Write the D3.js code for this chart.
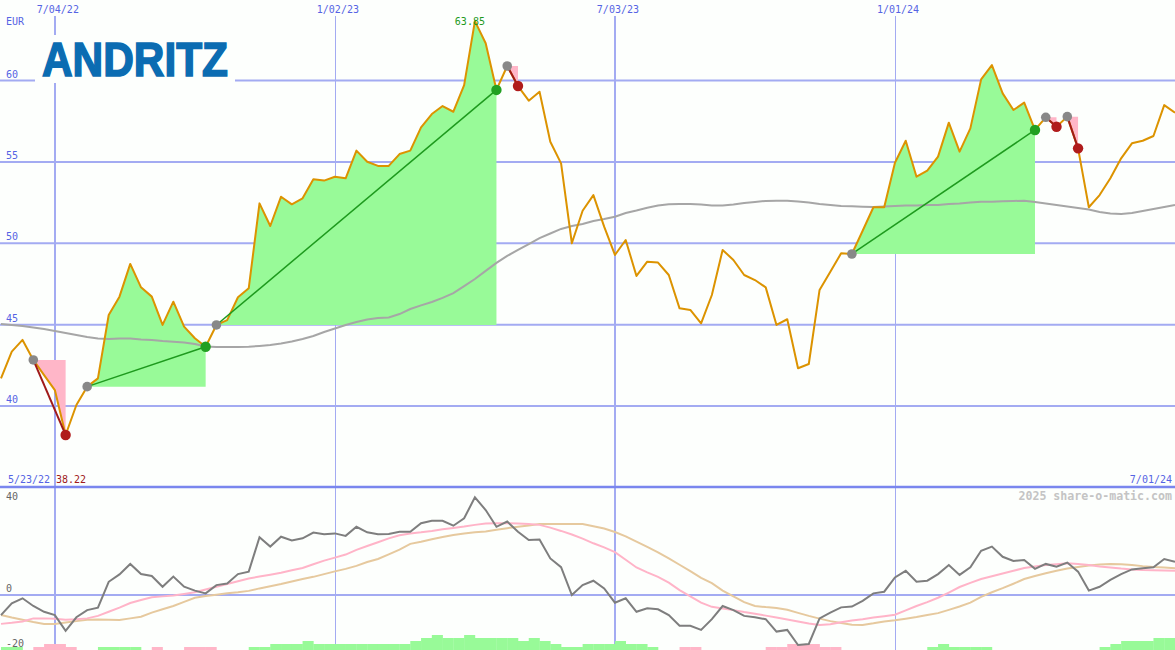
<!DOCTYPE html>
<html><head><meta charset="utf-8">
<script src="https://cdn.jsdelivr.net/npm/d3@7"></script>
<style>html,body{margin:0;padding:0;background:#fdfffd;overflow:hidden}svg{display:block}</style>
</head><body><svg id="c" width="1175" height="650"></svg>
<script>
// ---------- data (weekly closes, first week 2022-05-30) ----------
const startDate = "2022-05-30";
const prices = [41.70,43.34,44.06,42.83,41.90,40.98,38.22,40.06,41.19,41.70,
45.59,46.72,48.73,47.29,46.72,44.98,46.41,44.88,44.16,43.64,
44.98,45.28,46.68,47.23,52.45,51.06,52.86,52.39,52.76,53.93,
53.85,54.09,53.99,55.69,55.01,54.75,54.75,55.48,55.69,57.12,
57.94,58.43,58.08,59.72,63.65,62.29,59.42,60.89,59.66,58.76,
59.31,56.24,54.91,50.00,52.00,52.96,51.02,49.28,50.20,47.99,
48.87,48.81,48.05,46.00,45.90,45.08,46.82,49.59,48.97,48.05,
47.74,47.29,44.98,45.33,42.32,42.58,47.13,48.25,49.38,49.34,
50.77,52.21,52.21,54.95,56.30,54.09,54.46,55.32,57.41,55.63,
57.06,60.07,60.95,59.21,58.19,58.64,56.96,57.74,57.16,57.78,
55.83,52.21,52.96,53.99,55.22,56.14,56.30,56.59,58.49,58.02];
const priceMA = [45.04,44.98,44.92,44.82,44.73,44.61,44.49,44.36,44.24,44.15,
44.12,44.14,44.14,44.09,44.06,43.99,43.95,43.90,43.81,43.66,
43.63,43.63,43.63,43.64,43.69,43.75,43.84,43.96,44.12,44.30,
44.55,44.76,44.98,45.16,45.31,45.41,45.44,45.65,45.96,46.18,
46.39,46.64,46.94,47.37,47.80,48.30,48.79,49.22,49.59,49.95,
50.32,50.60,50.88,51.06,51.18,51.37,51.49,51.63,51.86,52.01,
52.18,52.32,52.39,52.41,52.41,52.38,52.32,52.32,52.38,52.47,
52.53,52.60,52.61,52.61,52.57,52.50,52.41,52.35,52.29,52.27,
52.25,52.23,52.26,52.29,52.32,52.32,52.35,52.35,52.41,52.44,
52.50,52.55,52.55,52.58,52.60,52.61,52.53,52.44,52.35,52.26,
52.17,52.07,51.92,51.83,51.80,51.86,51.98,52.10,52.23,52.35];
const momentum = [-7.3,-3.0,-1.2,-4.0,-6.1,-7.3,-13.0,-8.1,-5.5,-4.6,
4.8,7.5,11.3,7.6,6.9,3.0,6.7,3.0,1.6,0.6,
3.6,4.2,7.6,8.5,21.0,17.6,21.2,19.8,20.6,22.7,
22.1,22.4,21.5,24.8,22.8,22.1,22.2,23.0,23.0,26.1,
27.0,27.0,25.2,27.9,35.5,30.9,24.8,26.7,23.0,20.0,
20.2,13.3,10.1,0.0,3.6,5.2,2.4,-2.8,-1.2,-6.1,
-4.8,-5.2,-7.3,-11.2,-11.2,-12.7,-8.8,-4.0,-5.5,-7.6,
-8.1,-8.8,-13.3,-12.7,-18.2,-17.8,-8.5,-6.4,-4.5,-4.2,
-2.1,0.6,1.2,6.4,8.8,4.8,5.2,7.6,10.9,7.3,
10.1,16.1,17.6,13.9,12.4,12.7,9.5,11.3,10.3,11.8,
8.5,1.6,3.0,5.5,7.6,9.3,9.7,10.1,13.1,12.1];
const momAvgFast = [-10.5,-10.1,-9.6,-8.5,-8.5,-8.6,-9.0,-8.8,-8.5,-7.6,
-6.1,-4.6,-2.9,-1.8,-0.8,-0.5,-0.2,0.4,1.0,2.0,
3.0,4.0,5.0,6.0,6.7,7.4,8.1,9.0,9.8,11.2,
12.5,13.6,14.7,16.4,17.8,19.2,20.6,21.7,22.4,22.8,
23.3,23.9,24.4,24.9,25.5,26.0,26.1,26.1,26.0,25.8,
25.5,24.5,23.3,22.0,20.5,18.8,17.3,15.6,12.8,10.0,
8.2,6.6,4.5,1.8,-0.5,-2.8,-4.3,-4.9,-5.5,-6.2,
-6.8,-7.5,-8.2,-8.9,-9.6,-10.4,-10.9,-10.6,-9.9,-9.3,
-8.8,-8.2,-7.7,-7.2,-5.6,-4.0,-2.6,-1.0,0.9,2.9,
4.4,5.8,6.8,7.8,8.8,9.8,10.4,10.9,11.2,11.5,
11.3,10.9,10.4,10.0,9.6,9.3,9.1,9.0,8.9,8.8];
const momAvgSlow = [-7.3,-8.2,-9.0,-9.8,-10.5,-10.5,-10.0,-9.5,-9.0,-8.9,
-9.0,-9.1,-8.5,-7.9,-6.4,-5.2,-4.0,-2.5,-1.0,-0.4,
0.1,0.6,1.0,1.5,2.4,3.2,4.0,4.9,5.8,6.6,
7.6,8.6,9.5,10.6,12.0,13.1,14.8,16.5,18.6,19.4,
20.3,21.1,21.8,22.4,22.8,23.1,23.7,24.3,24.8,25.3,
25.8,25.8,25.8,25.8,25.8,25.0,24.2,22.9,21.3,19.4,
17.5,15.5,13.3,11.0,8.7,6.2,4.3,1.6,-0.5,-2.6,
-4.0,-4.4,-4.7,-5.4,-6.5,-7.6,-8.6,-9.5,-10.2,-10.8,
-10.9,-10.3,-9.6,-9.2,-8.6,-8.0,-7.3,-6.6,-5.4,-4.2,
-2.8,-0.7,1.0,2.5,4.1,5.8,6.9,7.9,8.8,9.6,
10.2,10.7,11.1,11.3,11.2,10.9,10.5,10.2,10.0,9.7];
const signalBars = [1,1,0,-1,-2,-2,-1,0,0,1,
1,1,1,0,-1,0,0,-1,-1,-1,
0,0,0,1,1,2,2,2,3,2,
2,2,2,2,2,2,2,2,3,4,
5,4,4,5,4,4,4,4,3,4,
3,2,1,1,2,2,2,3,2,2,
1,0,0,-1,-1,0,0,0,0,0,
0,-1,-1,-2,-2,-2,-1,-1,0,0,
0,0,0,0,0,0,1,2,1,1,
1,1,0,0,0,0,0,0,0,0,
0,0,1,2,3,3,3,4,4,4];
const tradeEntries = [3,8,20,47,79,97,99];
const tradeExits   = [6,19,46,48,96,98,100];
const priceTicks = [40,45,50,55,60];
const oscTicks = [40,0,-20];
const gridDates  = ["2022-07-04","2023-01-02","2023-07-03","2024-01-01"];
const gridLabels = ["7/04/22","1/02/23","7/03/23","1/01/24"];
const gridMajor  = [true,false,true,false];
const rangeLabels = ["5/23/22","7/01/24"];
const currencyLabel = "EUR";
const highLabel = "63.85", lowLabel = "38.22";
const watermark = "2025 share-o-matic.com";
const logoText = "ANDRITZ";

// ---------- setup ----------
const W = 1175, H = 650;
const svg = d3.select("#c");
const parse = d3.utcParse("%Y-%m-%d");
const start = parse(startDate);
const dates = prices.map((_, i) => d3.utcDay.offset(start, 7 * i));
const x = d3.scaleUtc().domain([dates[0], dates[dates.length - 1]]).range([1, 1175]);
const yP = d3.scaleLinear().domain([40, 60]).range([406, 80.5]);
const yO = d3.scaleLinear().domain([-20, 0]).range([650, 595]);
const barH = d3.scaleLinear().domain([0, 5]).range([0, 15]);
const FONT = "'DejaVu Sans Mono', monospace";
const GRID = "#a3abf2", LBL = "#5564e4";

svg.append("rect").attr("width", W).attr("height", H).attr("fill", "#fdfffd");

// grid
const g = svg.append("g");
priceTicks.forEach(v => g.append("line").attr("x1", 0).attr("x2", W)
  .attr("y1", yP(v)).attr("y2", yP(v)).attr("stroke", GRID).attr("stroke-width", 2));
g.append("line").attr("x1", 0).attr("x2", W).attr("y1", yO(0)).attr("y2", yO(0))
  .attr("stroke", GRID).attr("stroke-width", 2);
gridDates.forEach((d, k) => {
  const xx = Math.round(x(parse(d))) + (gridMajor[k] ? 0 : 0.5);
  g.append("line").attr("x1", xx).attr("x2", xx).attr("y1", 16).attr("y2", H)
    .attr("stroke", GRID).attr("stroke-width", gridMajor[k] ? 2 : 1);
});
g.append("line").attr("x1", 0).attr("x2", W).attr("y1", 487).attr("y2", 487)
  .attr("stroke", "#7a86ee").attr("stroke-width", 2.5);

// trade fills
const fills = svg.append("g");
tradeEntries.forEach((e, k) => {
  const xIdx = tradeExits[k];
  const ep = prices[e];
  const win = prices[xIdx] > ep;
  const idx = d3.range(e, xIdx + 1);
  const area = d3.area()
    .x(i => x(dates[i]))
    .y0(yP(ep))
    .y1(i => yP(win ? Math.max(prices[i], ep) : Math.min(prices[i], ep)));
  fills.append("path").attr("d", area(idx)).attr("fill", win ? "#98fa98" : "#ffb6c8");
});

// price MA
const lineP = d3.line().x((d, i) => x(dates[i])).y(d => yP(d));
svg.append("path").attr("d", lineP(priceMA)).attr("fill", "none")
  .attr("stroke", "#a6a6a6").attr("stroke-width", 2);
// price
svg.append("path").attr("d", lineP(prices)).attr("fill", "none")
  .attr("stroke", "#dc9300").attr("stroke-width", 2).attr("stroke-linejoin", "round");

// trade lines and dots
tradeEntries.forEach((e, k) => {
  const xi = tradeExits[k];
  const win = prices[xi] > prices[e];
  svg.append("line").attr("x1", x(dates[e])).attr("y1", yP(prices[e]))
    .attr("x2", x(dates[xi])).attr("y2", yP(prices[xi]))
    .attr("stroke", win ? "#1e9a1e" : "#a01a1a").attr("stroke-width", win ? 1.5 : 2);
});
tradeEntries.forEach((e, k) => {
  const xi = tradeExits[k];
  const win = prices[xi] > prices[e];
  svg.append("circle").attr("cx", x(dates[e])).attr("cy", yP(prices[e])).attr("r", 4.8).attr("fill", "#888888");
  svg.append("circle").attr("cx", x(dates[xi])).attr("cy", yP(prices[xi])).attr("r", 5.2)
    .attr("fill", win ? "#22a022" : "#b01c1c");
});

// oscillator panel
const bars = svg.append("g");
const step = x(dates[1]) - x(dates[0]);
signalBars.forEach((v, i) => {
  if (!v) return;
  const x0 = x(dates[i]);
  const x1 = i < dates.length - 1 ? x(dates[i + 1]) : x0 + step;
  bars.append("rect").attr("x", x0).attr("width", x1 - x0 + 0.3)
    .attr("y", H - barH(Math.abs(v))).attr("height", barH(Math.abs(v)))
    .attr("fill", v > 0 ? "#98fa98" : "#ffb6c8");
});
const lineO = d3.line().x((d, i) => x(dates[i])).y(d => yO(d));
svg.append("path").attr("d", lineO(momAvgSlow)).attr("fill", "none").attr("stroke", "#e6c99e").attr("stroke-width", 2);
svg.append("path").attr("d", lineO(momAvgFast)).attr("fill", "none").attr("stroke", "#ffb4c8").attr("stroke-width", 2);
svg.append("path").attr("d", lineO(momentum)).attr("fill", "none").attr("stroke", "#7e7e7e").attr("stroke-width", 2);

// labels
const t = svg.append("g").attr("font-family", FONT).attr("font-size", 10);
priceTicks.forEach(v => t.append("text").attr("x", 6).attr("y", yP(v) - 3).attr("fill", LBL).text(v));
t.append("text").attr("x", 6).attr("y", 25).attr("fill", LBL).text(currencyLabel);
gridDates.forEach((d, k) => t.append("text").attr("x", x(parse(d)) + 3).attr("y", 13)
  .attr("text-anchor", "middle").attr("fill", LBL).text(gridLabels[k]));
oscTicks.forEach(v => t.append("text").attr("x", 6).attr("y", Math.max(yO(v) - 3, 500))
  .attr("fill", "#666").text(v));
t.append("text").attr("x", 8).attr("y", 483).attr("fill", LBL).text(rangeLabels[0]);
t.append("text").attr("x", 1172).attr("y", 483).attr("text-anchor", "end").attr("fill", LBL).text(rangeLabels[1]);
const iMax = d3.maxIndex(prices);
t.append("text").attr("x", x(dates[iMax]) - 5).attr("y", 25).attr("text-anchor", "middle")
  .attr("fill", "#1e9a1e").text(highLabel);
t.append("text").attr("x", 56).attr("y", 483).attr("fill", "#a01a1a").text(lowLabel);
t.append("text").attr("x", 1172).attr("y", 500).attr("text-anchor", "end").attr("font-weight", "bold")
  .attr("font-size", 11.6).attr("fill", "#c4c4c4").text(watermark);

// logo
svg.append("rect").attr("x", 35).attr("y", 35).attr("width", 200).attr("height", 48).attr("fill", "#fdfffd");
svg.append("text").attr("x", 42).attr("y", 76).attr("font-family", "'Liberation Sans', Arial, sans-serif")
  .attr("font-weight", "bold").attr("font-size", 48).attr("textLength", 186)
  .attr("lengthAdjust", "spacingAndGlyphs").attr("fill", "#0b6cb2")
  .attr("stroke", "#0b6cb2").attr("stroke-width", 1.6).attr("stroke-linejoin", "miter").text(logoText);
</script></body></html>
